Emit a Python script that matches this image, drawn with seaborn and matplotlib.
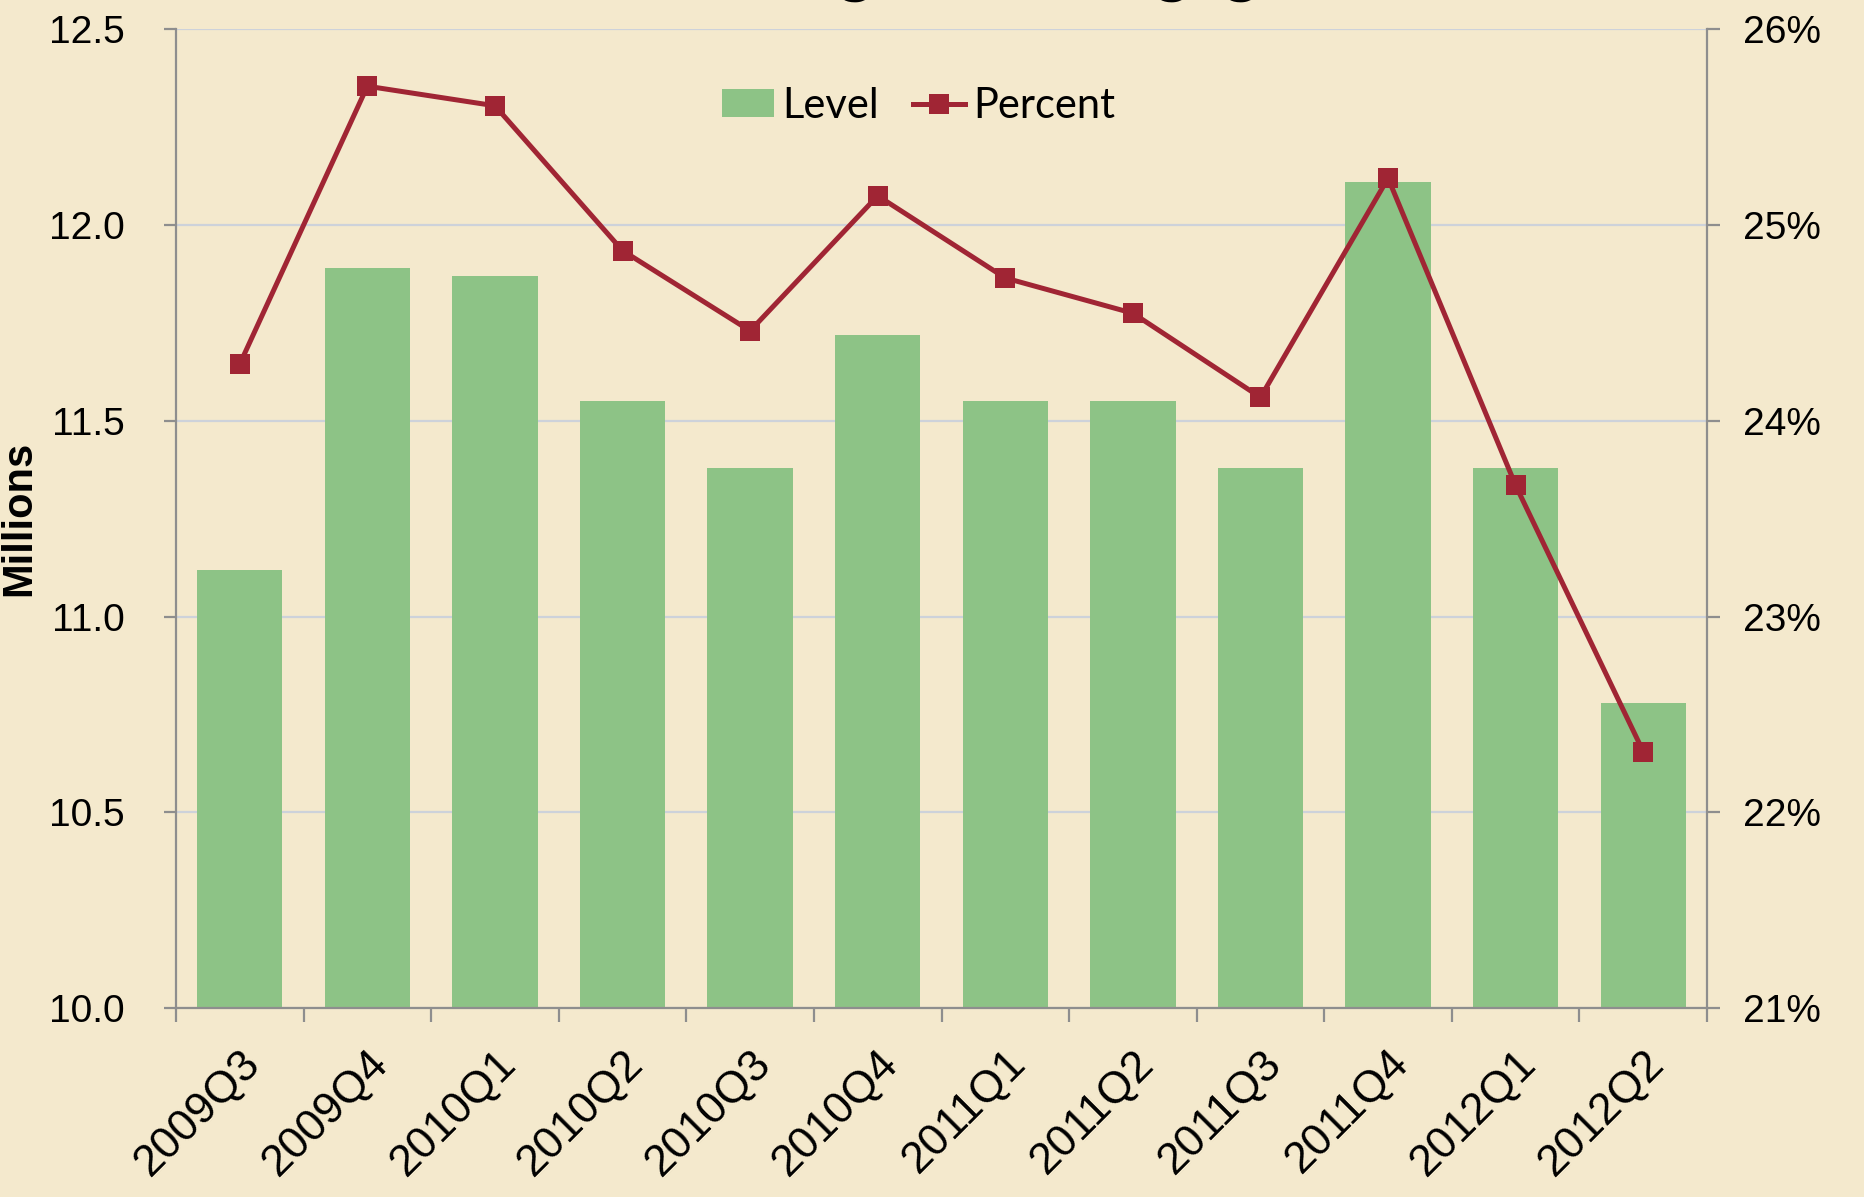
"""
Level and percent of underwater mortgages by quarter: bars (millions, left axis)
with a percent line on a twin right axis.
"""

import numpy as np
import pandas as pd
import seaborn as sns
import matplotlib.pyplot as plt
from matplotlib.ticker import FuncFormatter, MultipleLocator, FixedLocator

# Data
quarters = ['2009Q3', '2009Q4', '2010Q1', '2010Q2', '2010Q3', '2010Q4',
            '2011Q1', '2011Q2', '2011Q3', '2011Q4', '2012Q1', '2012Q2']
level_millions = [11.12, 11.89, 11.87, 11.55, 11.38, 11.72,
                  11.55, 11.55, 11.38, 12.11, 11.38, 10.78]
percent = [24.29, 25.71, 25.61, 24.87, 24.46, 25.15,
           24.73, 24.55, 24.12, 25.24, 23.67, 22.31]
title_text = 'Level and Percentage of Mortgages Underwater'

BG = '#F4E9CD'
GREEN = '#8DC386'
RED = '#A02534'
AXIS_GREY = '#8E8E8E'
GRID = '#CDD2DA'

plt.rcParams['font.family'] = ['Liberation Sans', 'DejaVu Sans']

df = pd.DataFrame({'quarter': quarters, 'level': level_millions,
                   'percent': percent})
df['pos'] = np.arange(len(df))

fig = plt.figure(figsize=(18.64, 11.97), dpi=100, facecolor=BG)
ax = fig.add_axes([0.0944, 0.1579, 0.8214, 0.8175])
ax.set_facecolor('none')

# Bars (left axis)
sns.barplot(data=df, x='quarter', y='level', color=GREEN, saturation=1,
            width=0.67, ax=ax, zorder=2, label='Level')
if ax.get_legend() is not None:
    ax.get_legend().remove()
ax.set_ylim(10.0, 12.5)
ax.set_xlim(-0.5, len(quarters) - 0.5)
ax.yaxis.set_major_locator(MultipleLocator(0.5))
ax.yaxis.set_major_formatter(FuncFormatter(lambda v, p: f'{v:.1f}'))
ax.grid(axis='y', color=GRID, linewidth=1.6, zorder=0)
ax.set_axisbelow(True)
ax.set_xlabel('')
ax.set_ylabel('Millions', fontsize=30, fontweight='bold')
ax.yaxis.set_label_coords(-0.089, 0.5)

# Percent line (right axis)
ax2 = ax.twinx()
sns.lineplot(data=df, x='pos', y='percent', color=RED, linewidth=3.6,
             marker='s', markersize=14, markeredgewidth=0, ax=ax2,
             label='Percent', legend=False)
ax2.set_ylim(21, 26)
ax2.yaxis.set_major_locator(MultipleLocator(1))
ax2.yaxis.set_major_formatter(FuncFormatter(lambda v, p: f'{v:.0f}%'))
ax2.set_ylabel('')
ax2.set_xlabel('')

# Spines and ticks
for a in (ax, ax2):
    a.spines['top'].set_visible(False)
    for s in ('left', 'right', 'bottom'):
        a.spines[s].set_color(AXIS_GREY)
        a.spines[s].set_linewidth(1.6)
ax.spines['right'].set_visible(False)
ax2.spines['left'].set_visible(False)
ax2.spines['bottom'].set_visible(False)

ax.tick_params(axis='y', direction='out', length=9, width=1.6,
               color=AXIS_GREY, labelsize=28, pad=28)
ax2.tick_params(axis='y', direction='out', length=9, width=1.6,
                color=AXIS_GREY, labelsize=28, pad=17)

# category labels centered, tick marks on the boundaries
ax.xaxis.set_minor_locator(FixedLocator(np.arange(-0.5, len(quarters), 1.0)))
ax.tick_params(axis='x', which='major', length=0, labelsize=32, pad=25)
ax.tick_params(axis='x', which='minor', direction='out', length=10,
               width=1.6, color=AXIS_GREY)
plt.setp(ax.get_xticklabels(), rotation=45, ha='right', va='top',
         rotation_mode='anchor')

# Legend
h1, l1 = ax.get_legend_handles_labels()
h2, l2 = ax2.get_legend_handles_labels()
leg = ax2.legend(h1 + h2, l1 + l2, loc='center', bbox_to_anchor=(0.485, 0.922),
                 ncol=2, frameon=False, prop={'family': 'Lato', 'size': 30},
                 handlelength=1.25, handleheight=0.65, handletextpad=0.2,
                 columnspacing=0.8)

# Title sits almost entirely above the canvas, as in the reference
fig.text(0.529, 1.0 + 11 / 1197, title_text, ha='center', va='baseline',
         fontsize=48, fontweight='bold', family='Lato')

fig.savefig('out.png', dpi=100, facecolor=BG)
